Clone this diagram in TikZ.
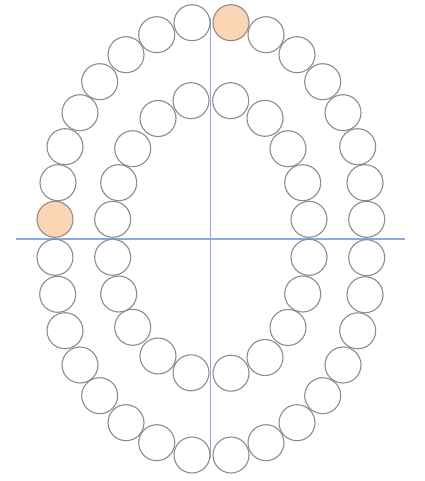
\documentclass[tikz,border=0pt]{standalone}
\usepackage{tikz}
\usepackage{xcolor}
\definecolor{axisblue}{RGB}{142,169,219}
\definecolor{beadgray}{RGB}{140,140,140}
\definecolor{peach}{RGB}{252,213,181}
\tikzstyle{axis} = [axisblue, line width=1.4pt]
\tikzstyle{bead} = [circle, draw=beadgray, line width=1.1pt, minimum size=36pt, inner sep=0pt]

\begin{document}
\begin{tikzpicture}[x=1pt, y=-1pt]
        \useasboundingbox (0,0) rectangle (424,481);

        % axes
        \coordinate (xl) at (16,239);
        \coordinate (xr) at (405,239);
        \coordinate (yt) at (210.7,18);
        \coordinate (yb) at (210.7,458);
        \draw[axis] (xl) -- (xr);
        \draw[axis] (yt) -- (yb);

        % outer ring
        \foreach \x/\y/\c [count=\k] in {192/22.7/white, 231/22.7/peach, 266/34.7/white, 297/54.7/white,
            322.7/81.7/white, 343/112.7/white, 357.7/146.7/white, 365/182.7/white,
            366.7/219.3/white, 366.7/257.7/white, 365/294.7/white, 357.7/330.8/white,
            343/365/white, 322.7/395.7/white, 297/422.7/white, 266/442.7/white,
            231/455/white, 192/455/white, 156.7/442.7/white, 126/422.7/white,
            99.7/395.7/white, 80/365/white, 65/330.7/white, 57.7/294.3/white,
            55/257.3/white, 55/219.3/peach, 58/182.7/white, 65/146.7/white,
            80/112.7/white, 99.7/81.7/white, 126/54.7/white, 156.7/34.7/white}
            \node[bead, fill=\c] (o\k) at (\x,\y) {};

        % inner ring
        \foreach \x/\y [count=\k] in {191/100.7, 230.7/100.7, 265/118.3, 288/148.7,
            302.7/182.7, 309/219.3, 309/257.3, 302.7/294, 288/327.5, 265/357.5,
            231/373.2, 191/372.8, 158/356, 132.7/327.3, 118.7/294, 112.7/257.3,
            112.7/219.3, 118.7/182.7, 132.7/148.7, 158/118.5}
            \node[bead, fill=white] (i\k) at (\x,\y) {};
    \end{tikzpicture}
\end{document}
